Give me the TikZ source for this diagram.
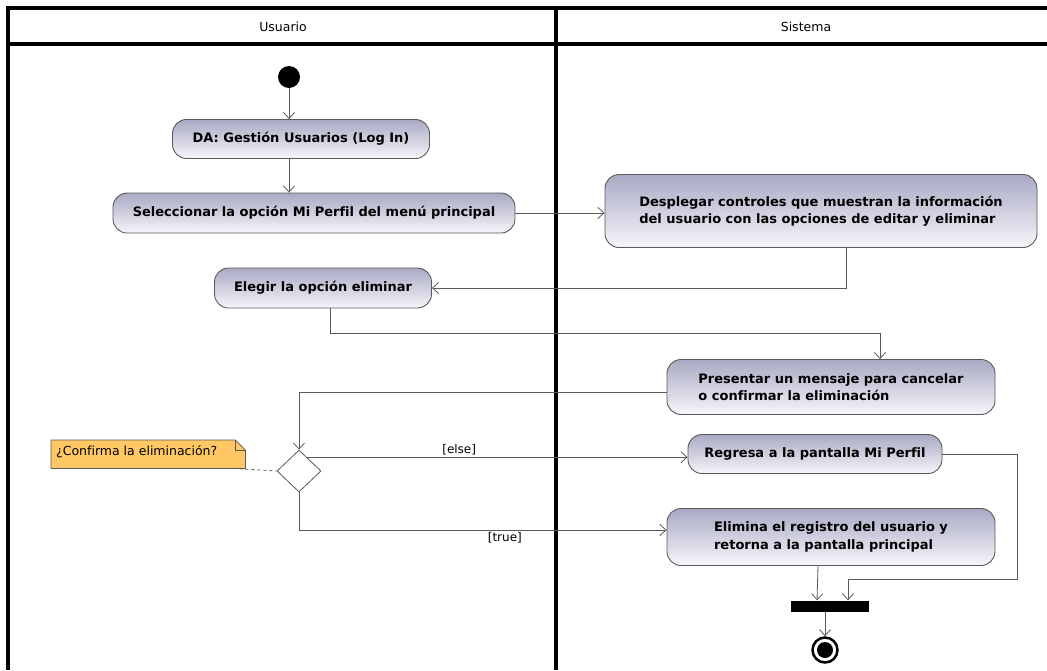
\documentclass[tikz,border=0pt]{standalone}
\usepackage{fontspec}
\setmainfont{DejaVu Sans}[Ligatures=NoCommon]
\usetikzlibrary{arrows.meta,shapes.geometric,positioning,calc}

\definecolor{actTop}{HTML}{A9A9C4}
\definecolor{actBot}{HTML}{F6F6FB}
\definecolor{lineGray}{HTML}{5A5A5A}
\definecolor{noteFill}{HTML}{FFC865}

\tikzset{
  act/.style={draw=lineGray, line width=0.9pt, rounded corners=14pt,
    top color=actTop, bottom color=actBot, align=left, inner sep=0pt,
    font=\fontsize{13}{17.5}\selectfont\bfseries},
  flow/.style={draw=lineGray, line width=0.8pt, -{Straight Barb[length=6pt,width=11pt]}},
  lane/.style={line width=4pt, black},
  guard/.style={font=\fontsize{12}{14}\selectfont, inner sep=2pt}
}

\begin{document}
\begin{tikzpicture}[x=1pt, y=-1pt]
\useasboundingbox (0,0) rectangle (1047,670);

% carriles
\draw[lane] (1047,8) -| (8,670);
\draw[lane] (8,44) -- (1047,44);
\draw[lane] (556,8) -- (556,670);
\node[font=\fontsize{12.5}{14}\selectfont] (usuario) at (283,27) {Usuario};
\node[font=\fontsize{12.5}{14}\selectfont] (sistema) at (806,27) {Sistema};

% nodos
\node[circle, fill=black, minimum size=22pt, inner sep=0pt] (ini) at (289,77) {};
\node[act, minimum width=257pt, minimum height=39pt] (a1) at (301,139) {DA: Gestión Usuarios (Log In)};
\node[act, minimum width=402pt, minimum height=40pt] (a2) at (314,213) {Seleccionar la opción Mi Perfil del menú principal};
\node[act, minimum width=432pt, minimum height=73pt] (a4) at (821,211) {Desplegar controles que muestran la información\\del usuario con las opciones de editar y eliminar};
\node[act, minimum width=217pt, minimum height=40pt] (a3) at (323,288) {Elegir la opción eliminar};
\node[act, minimum width=328pt, minimum height=55pt] (a5) at (831,387) {Presentar un mensaje para cancelar\\o confirmar la eliminación};
\node[diamond, draw=lineGray, fill=white, line width=0.8pt, minimum width=44pt, minimum height=42pt, inner sep=0pt] (dec) at (299,471) {};
\node[act, minimum width=254pt, minimum height=39pt] (a6) at (815,454) {Regresa a la pantalla Mi Perfil};
\node[act, minimum width=328pt, minimum height=57pt] (a7) at (831,537) {Elimina el registro del usuario y\\retorna a la pantalla principal};
\node[fill=black, minimum width=78pt, minimum height=11pt, inner sep=0pt] (barra) at (830,606) {};
\node[circle, draw=black, line width=2.5pt, fill=white, minimum size=25pt, inner sep=0pt] (fin) at (825,650) {};
\fill[black] (fin.center) circle (8pt);

% nota
\node[minimum width=194pt, minimum height=28pt, inner sep=0pt, anchor=north west] (nota) at (51,440) {};
\filldraw[draw=lineGray, fill=noteFill, line width=0.8pt] (nota.north west) -- ($(nota.north east)+(-10,0)$) -- ($(nota.north east)+(0,10)$) -- (nota.south east) -- (nota.south west) -- cycle;
\draw[lineGray, line width=0.8pt] ($(nota.north east)+(-10,0)$) -- ++(0,10) -- ++(10,0);
\node[font=\fontsize{12.5}{14}\selectfont, anchor=west, inner sep=0pt] at ($(nota.west)+(5,-2)$) {¿Confirma la eliminación?};
\draw[lineGray, dashed, line width=0.8pt] ($(nota.south east)+(-12,0)$) -- (dec.west);

% flujos
\draw[flow] (ini.south) -- (ini.south |- a1.north);
\draw[flow] (a1.south -| ini.south) -- (a2.north -| ini.south);
\draw[flow] (a2.east) -- (a2.east -| a4.west);
\draw[flow] ($(a4.south)+(25,0)$) |- (a3.east);
\draw[flow] ($(a3.south)+(7,0)$) -- ++(0,25) -| ($(a5.north)+(49,0)$);
\draw[flow] ($(a5.west)+(0,5)$) -| (dec.north);
\draw[flow] (dec.60) -- node[guard, above, pos=0.4] {[else]} (dec.60 -| a6.west);
\draw[flow] (dec.south) |- node[guard, below, pos=0.78] {[true]} ($(a7.west)+(0,-7)$);
\draw[flow] (a6.east) -- ++(75,0) -- ++(0,125) -| ($(barra.north)+(18,0)$);
\draw[flow] ($(a7.south)+(-13,0)$) -- ($(barra.north)+(-13,0)$);
\draw[flow] (barra.south -| fin.north) -- (fin.north);
\end{tikzpicture}
\end{document}
